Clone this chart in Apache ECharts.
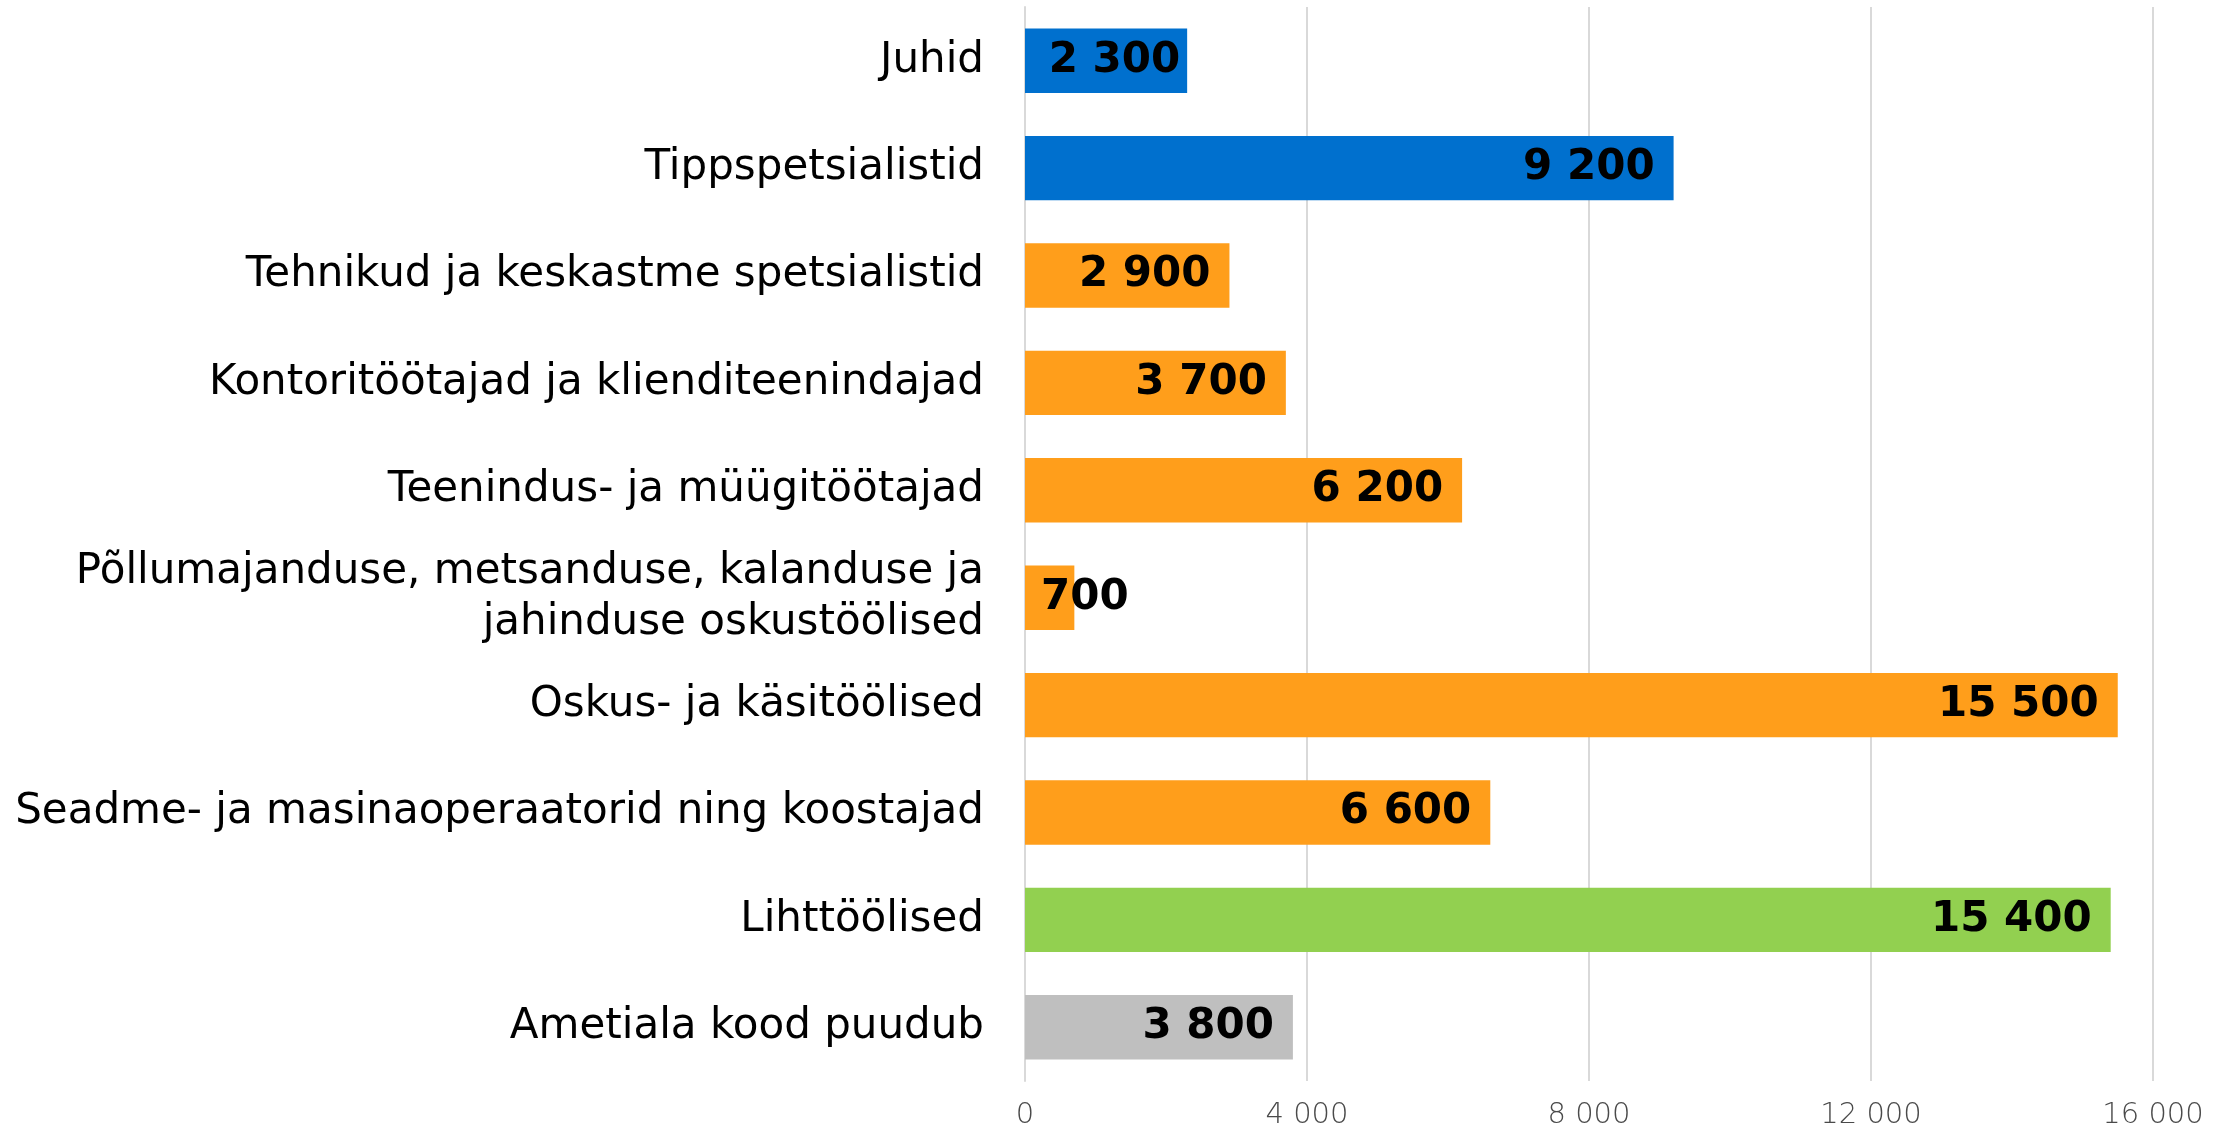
<!DOCTYPE html>
<html>
<head>
<meta charset="utf-8">
<script src="https://cdn.jsdelivr.net/npm/echarts@6/dist/echarts.min.js"></script>
<style>
  html, body { margin: 0; padding: 0; background: #fff; }
  #chart { width: 2215px; height: 1130px; }
</style>
</head>
<body>
<div id="chart"></div>
<script>
// andmed
var categories = [
	"Juhid",
	"Tippspetsialistid",
	"Tehnikud ja keskastme spetsialistid",
	"Kontoritöötajad ja klienditeenindajad",
	"Teenindus- ja müügitöötajad",
	"Põllumajanduse, metsanduse, kalanduse ja\njahinduse oskustöölised",
	"Oskus- ja käsitöölised",
	"Seadme- ja masinaoperaatorid ning koostajad",
	"Lihttöölised",
	"Ametiala kood puudub"
];
var values = [2300, 9200, 2900, 3700, 6200, 700, 15500, 6600, 15400, 3800];
var groups = ["blue", "blue", "orange", "orange", "orange", "orange", "orange", "orange", "green", "gray"];
var xTicks = [0, 4000, 8000, 12000, 16000];

var colors = {
	blue: "#0070CE",
	orange: "#FF9E1B",
	green: "#92D050",
	gray: "#BFBFBF"
};

function fmt(v){
	return String(v).replace(/\B(?=(\d{3})+(?!\d))/g, " ");
}

var FONT = "DejaVu Sans";

var chart = echarts.init(document.getElementById("chart"));

var barData = [];
for(var i = 0; i < values.length; i++){
	var item = {
		value: values[i],
		itemStyle: { color: colors[groups[i]] }
	};
	// liiga lühike tulp: silt algab tulba algusest
	if(values[i] < 1000){
		item.label = { position: "insideLeft", distance: 16 };
	}else if(values[i] < 2500){
		item.label = { position: "insideRight", distance: 7 };
	}
	barData.push(item);
}

var option = {
	animation: false,
	grid: {
		left: 1025,
		right: 62,
		top: 7,
		bottom: 48,
		containLabel: false
	},
	xAxis: {
		type: "value",
		min: xTicks[0],
		max: xTicks[xTicks.length - 1],
		interval: 4000,
		axisLine: { show: false },
		axisTick: { show: false },
		splitLine: { show: true, lineStyle: { color: "#D9D9D9", width: 2 } },
		axisLabel: {
			color: "#4a4a4a",
			fontFamily: FONT,
			fontWeight: 200,
			fontSize: 29,
			margin: 20,
			formatter: function(v){ return fmt(v); }
		}
	},
	yAxis: {
		type: "category",
		data: categories,
		inverse: true,
		axisLine: { show: true, lineStyle: { color: "#D9D9D9", width: 2 } },
		axisTick: { show: false },
		axisLabel: {
			color: "#000",
			fontFamily: FONT,
			fontSize: 42,
			lineHeight: 51,
			margin: 41,
			align: "right",
			padding: [4, 0, 0, 0]
		}
	},
	series: [
		{
			type: "bar",
			data: barData,
			barWidth: "60%",
			label: {
				show: true,
				position: "insideRight",
				distance: 19,
				color: "#000",
				fontFamily: FONT,
				fontWeight: "bold",
				fontSize: 42,
				padding: [5, 0, 0, 0],
				formatter: function(p){ return fmt(p.value); }
			}
		}
	]
};

chart.setOption(option);
</script>
</body>
</html>
